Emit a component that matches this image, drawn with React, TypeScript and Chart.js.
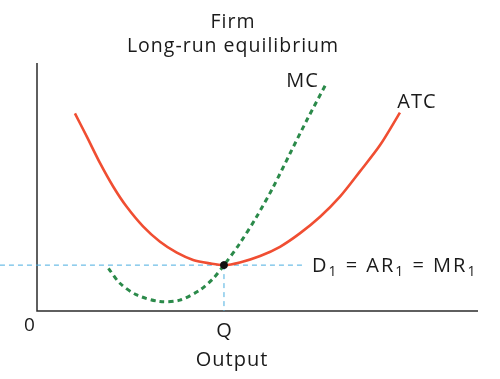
import { useEffect, useRef } from 'react';
import { Chart, registerables } from 'chart.js';

Chart.register(...registerables);

// ---- data (x: output units 0..100, y: cost/price units 0..100) ----
const atcX = [8.6, 11.3, 14.3, 17.3, 20.3, 24.1, 27.9, 31.7, 35.4, 39.2, 42.4, 46.0, 50.6, 55.1, 59.6, 64.2, 68.7, 73.2, 77.8, 82.3];
const atcY = [79.7, 70.3, 59.6, 50.1, 42.1, 34.0, 27.9, 23.5, 20.6, 19.2, 18.5, 19.6, 22.2, 25.9, 31.3, 38.0, 46.1, 56.2, 66.9, 80.0];
const mcX = [16.2, 18.8, 22.6, 27.9, 32.4, 37.0, 40.0, 42.4, 46.0, 49.8, 53.6, 57.4, 61.2, 65.7];
const mcY = [17.2, 11.2, 6.5, 3.8, 4.4, 8.5, 13.2, 18.5, 27.3, 38.0, 50.1, 63.6, 77.0, 92.1];
const priceLevel = 18.5;
const quantityQ = 42.4;
const priceLineX = [-8.4, 60.3];
const titleLines = ['Firm', 'Long-run equilibrium'];
const xAxisTitle = 'Output';
const tickLabels = ['0', 'Q'];
const curveLabels = ['MC', 'ATC'];
const demandLabel = [
  ['D', false], ['1', true], [' = AR', false], ['1', true], [' = MR', false], ['1', true],
] as [string, boolean][];

const FONT = '"Open Sans", sans-serif';

const labelsPlugin = {
  id: 'econLabels',
  beforeDatasetsDraw(chart: any) {
    const { ctx, scales } = chart;
    const xs = scales.x, ys = scales.y;
    const x0 = xs.getPixelForValue(0);
    const y0 = ys.getPixelForValue(0);
    ctx.save();
    ctx.strokeStyle = '#2b2b2b';
    ctx.lineWidth = 1.5;
    ctx.beginPath();
    ctx.moveTo(x0, ys.getPixelForValue(100));
    ctx.lineTo(x0, y0);
    ctx.lineTo(xs.getPixelForValue(100), y0);
    ctx.stroke();
    ctx.restore();
  },
  afterDraw(chart: any) {
    const { ctx, scales } = chart;
    const xs = scales.x, ys = scales.y;
    const x0 = xs.getPixelForValue(0);
    const y0 = ys.getPixelForValue(0);
    ctx.save();
    ctx.fillStyle = '#1a1a1a';
    ctx.textBaseline = 'alphabetic';
    (ctx as any).letterSpacing = '1px';
    ctx.font = `19.5px ${FONT}`;
    ctx.textAlign = 'center';
    ctx.fillText(titleLines[0], 233, 28);
    ctx.fillText(titleLines[1], 233, 52);
    ctx.font = `20px ${FONT}`;
    ctx.fillText(xAxisTitle, 232, 366);
    // ticks
    ctx.font = `19px ${FONT}`;
    ctx.fillText(tickLabels[0], x0 - 7, y0 + 20);
    ctx.font = `20px ${FONT}`;
    ctx.fillText(tickLabels[1], xs.getPixelForValue(quantityQ) + 0.5, y0 + 26);
    // curve labels
    const mcEndX = xs.getPixelForValue(mcX[mcX.length - 1]);
    const mcEndY = ys.getPixelForValue(mcY[mcY.length - 1]);
    ctx.textAlign = 'right';
    ctx.fillText(curveLabels[0], mcEndX - 8, mcEndY + 4);
    const atcEndX = xs.getPixelForValue(atcX[atcX.length - 1]);
    const atcEndY = ys.getPixelForValue(atcY[atcY.length - 1]);
    ctx.textAlign = 'center';
    ctx.fillText(curveLabels[1], atcEndX + 17, atcEndY - 5);
    // demand label with subscripts
    ctx.textAlign = 'left';
    (ctx as any).letterSpacing = '2px';
    let lx = xs.getPixelForValue(priceLineX[1]) + 9;
    const ly = ys.getPixelForValue(priceLevel) + 6.5;
    for (const [t, sub] of demandLabel) {
      ctx.font = sub ? `14px ${FONT}` : `20px ${FONT}`;
      ctx.fillText(t, lx, sub ? ly + 4 : ly);
      lx += ctx.measureText(t).width;
    }
    ctx.restore();
  },
};

export default function App() {
  const ref = useRef<HTMLCanvasElement | null>(null);
  useEffect(() => {
    if (!ref.current) return;
    const chart = new Chart(ref.current, {
      type: 'line',
      data: {
        datasets: [
          {
            label: 'Equilibrium',
            data: [{ x: quantityQ, y: priceLevel }],
            showLine: false,
            pointRadius: 3.5,
            pointBackgroundColor: '#111',
            pointBorderColor: '#111',
            order: 0,
          },
          {
            label: 'ATC',
            data: atcX.map((x, i) => ({ x, y: atcY[i] })),
            borderColor: '#f04e32',
            borderWidth: 2.6,
            pointRadius: 0,
            tension: 0.3,
            order: 2,
          },
          {
            label: 'MC',
            data: mcX.map((x, i) => ({ x, y: mcY[i] })),
            borderColor: '#2b8a4a',
            borderWidth: 3,
            borderDash: [5, 4],
            pointRadius: 0,
            tension: 0.3,
            order: 1,
          },
          {
            label: 'D = AR = MR',
            data: priceLineX.map((x) => ({ x, y: priceLevel })),
            borderColor: '#4aaee0',
            borderWidth: 1,
            borderDash: [5, 4],
            pointRadius: 0,
            clip: false,
            order: 3,
          },
          {
            label: 'Q',
            data: [{ x: quantityQ, y: priceLevel }, { x: quantityQ, y: 0 }],
            borderColor: '#4aaee0',
            borderWidth: 1,
            borderDash: [5, 4],
            pointRadius: 0,
            order: 3,
          },
        ],
      } as any,
      options: {
        animation: false,
        responsive: false,
        layout: { padding: { left: 37, top: 63, right: 22, bottom: 68 } },
        scales: {
          x: { type: 'linear', min: 0, max: 100, display: false },
          y: { type: 'linear', min: 0, max: 100, display: false },
        },
        plugins: { legend: { display: false }, tooltip: { enabled: false }, title: { display: false } },
      },
      plugins: [labelsPlugin],
    });
    return () => chart.destroy();
  }, []);
  return (
    <div style={{ position: 'absolute', left: 0, top: 0, width: 500, height: 379, background: '#fff' }}>
      <canvas ref={ref} width={500} height={379} />
    </div>
  );
}
